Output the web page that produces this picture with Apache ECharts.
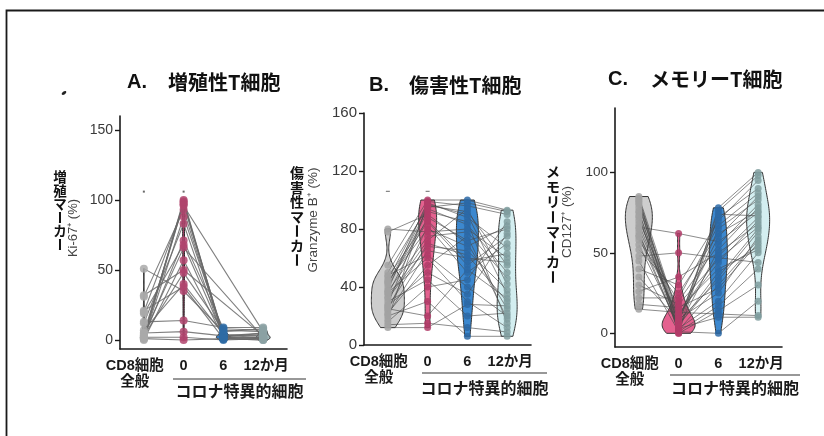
<!DOCTYPE html>
<html><head><meta charset="utf-8">
<script src="https://cdn.jsdelivr.net/npm/echarts@6/dist/echarts.min.js"></script>
<style>html,body{margin:0;padding:0;background:#fff}#c{width:824px;height:436px}</style>
</head><body><div id="c"></div><script>
// ---- data ----
const timeLabels = ['CD8細胞\n全般', '0', '6', '12か月'];
const panelTitles = ['増殖性T細胞', '傷害性T細胞', 'メモリーT細胞'];
const panelLetters = ['A.', 'B.', 'C.'];
const markerNames = ['増殖マーカー', '傷害性マーカー', 'メモリーマーカー'];
const unitNames = ['Ki-67⁺ (%)', 'Granzyme B⁺ (%)', 'CD127⁺ (%)'];
const groupName = 'コロナ特異的細胞';
const yTicksA = [0, 50, 100, 150];
const yTicksB = [0, 40, 80, 120, 160];
const yTicksC = [0, 50, 100];

// Panel A: Ki-67+ (%) per subject at CD8 bulk, 0, 6, 12 months
const kiCD8 = [2, 3, 1, 5, 20, 31, 1, 12, 2, 19, 51, 4, 0, 13, 5, 1, 32, 3, 7, 2, 21];
const ki0   = [100, 99, 98, 97, 96, 93, 88, 83, 71, 68, 35, 66, 57, 14, 6, 0, 50, 48, 40, 2, 38];
const ki6   = [2, 3, 1, 4, null, 2, 5, 1, 8, 3, 6, null, 2, 9, 3, 1, null, 7, 4, 0, 1];
const ki12  = [1, 2, 0, 3, 6, 5, null, 2, 7, 4, 8, 2, 1, 9, 5, 0, 3, 6, null, 1, 2];
// Panel B: Granzyme B+ (%)
const gzCD8 = [80, 78, 55, 50, 48, 45, 43, 40, 38, 36, 35, 33, 30, 28, 26, 24, 22, 20, 18, 16, 14, 12, 42, 47, 32, 27, 37, 44, 25, 21];
const gz0   = [78, 90, 100, 95, 62, 97, 85, 92, 99, 60, 88, 72, 45, 96, 70, 82, 55, 30, 98, 40, 15, 12, 94, 86, 68, 50, 75, 80, 20, 65];
const gz6   = [80, 70, 100, 98, 40, 90, 55, 85, 96, 30, 72, 94, 20, 92, 62, 50, 75, 6, 88, 45, 12, 28, 83, 58, 65, 35, 78, 68, 52, 60];
const gz12  = [60, 25, 93, 92, 20, 35, 75, 15, 90, 12, 80, 42, 22, 55, 30, 70, 18, 6, 67, 85, 9, 27, 50, 63, 38, 77, 46, 82, 32, 57];
// Panel C: CD127+ (%)
const cdCD8 = [66, 48, 85, 84, 83, 82, 80, 78, 76, 75, 73, 72, 70, 68, 65, 63, 61, 60, 58, 55, 52, 45, 40, 35, 30, 26, 22, 18, 15, 81];
const cd0   = [62, 50, 10, 5, 3, 8, 1, 12, 2, 6, 0, 4, 15, 7, 9, 2, 11, 3, 20, 5, 25, 1, 30, 8, 18, 35, 22, 16, 13, 0];
const cd6   = [57, 47, 60, 35, 20, 72, 0, 44, 30, 76, 14, 52, 40, 65, 25, 78, 48, 10, 55, 38, 62, 17, 70, 33, 46, 50, 67, 28, 12, 74];
const cd12  = [75, 44, 85, 65, 50, 90, 20, 70, 58, 98, 30, 78, 52, 83, 60, 100, 72, 10, 80, 54, 76, 40, 95, 63, 66, 68, 87, 56, 11, 73];
// significance marks above groups
const sigA = [[0, 106], [1, 106]];
const sigB = [[0, 106], [1, 106]];

// ---- styling / layout ----
const FONT = '"Liberation Sans","Noto Sans CJK JP",sans-serif';
const CJK = '"Noto Sans CJK JP","Liberation Sans",sans-serif';
const panels = [
  { data: [kiCD8, ki0, ki6, ki12], grid: { left: 120, top: 116, width: 167, height: 233 }, yMin: -6.4, yMax: 160, ticks: yTicksA, labelSize: 14,
    vWidths: [3, 2, 14, 14], ptSize: 8, pts: ['#a9a9a9', '#b0446d', '#2e6ba5', '#8ba1a3'], fills: ['#9a9a9a', '#b0446d', '#3a78b5', '#9fb5b7'], outline: '#222',
    line: { c: '#6a6a6a', w: 1.1, o: 0.85 }, sig: sigA, sigSize: [2, 2] },
  { data: [gzCD8, gz0, gz6, gz12], grid: { left: 364, top: 113, width: 167, height: 232 }, yMin: 0, yMax: 160, ticks: yTicksB, labelSize: 15,
    vWidths: [33, 18, 22, 20], ptSize: 7, pts: ['#a2a2a2', '#b23c69', '#2c68a6', '#809d9f'], fills: ['#cdcdcd', '#e4618f', '#3c88cf', '#d3eef0'], outline: '#333',
    line: { c: '#4a4a4a', w: 0.8, o: 0.8 }, sig: sigB, sigSize: [4, 1] },
  { data: [cdCD8, cd0, cd6, cd12], grid: { left: 615, top: 108, width: 167, height: 239 }, yMin: -8.5, yMax: 140, ticks: yTicksC, labelSize: 13.5,
    vWidths: [27, 33, 18, 23], ptSize: 7, pts: ['#a2a2a2', '#b23c69', '#2c68a6', '#809d9f'], fills: ['#cdcdcd', '#e4618f', '#3c88cf', '#d3eef0'], outline: '#333',
    line: { c: '#4a4a4a', w: 0.8, o: 0.8 }, sig: [], sigSize: [2, 2] }
];

function nrd0(v) {
  const n = v.length, m = v.reduce((a, b) => a + b, 0) / n;
  const sd = Math.sqrt(v.reduce((a, b) => a + (b - m) * (b - m), 0) / (n - 1));
  const s = v.slice().sort((a, b) => a - b);
  const q = p => { const h = (n - 1) * p, lo = Math.floor(h); return s[lo] + (h - lo) * ((s[lo + 1] ?? s[lo]) - s[lo]); };
  const iqr = q(0.75) - q(0.25);
  let lo = Math.min(sd, iqr / 1.34); if (!(lo > 0)) lo = sd || 1;
  return 0.9 * lo * Math.pow(n, -0.2);
}
function kde(v, h, y) { let s = 0; for (const x of v) s += Math.exp(-0.5 * ((y - x) / h) ** 2); return s; }

const lblStyle = { fontSize: 14.5, fontWeight: 'bold', fontFamily: FONT, color: '#1a1a1a', lineHeight: 16 };
const grid = [], xAxis = [], yAxis = [], series = [];
panels.forEach((p, pi) => {
  grid.push(Object.assign({ containLabel: false }, p.grid));
  // main x axis (time points)
  xAxis.push({
    type: 'value', gridIndex: pi, position: 'bottom', min: -0.6, max: 3.6,
    axisLine: { show: true, onZero: false, lineStyle: { color: '#1a1a1a', width: 1.6 } },
    axisTick: { show: false }, splitLine: { show: false },
    axisLabel: Object.assign({
      customValues: [1, 2, 3], margin: 9, hideOverlap: false,
      formatter: v => { const i = Math.round(v); return i === 3 ? '{r|' + timeLabels[3] + '}' : timeLabels[i]; },
      rich: { r: Object.assign({ padding: [0, 0, 0, 6] }, lblStyle) }
    }, lblStyle)
  });
  // secondary x axis only carrying the bulk CD8 label
  xAxis.push({
    type: 'value', gridIndex: pi, position: 'bottom', min: -0.6, max: 3.6,
    axisLine: { show: false }, axisTick: { show: false }, splitLine: { show: false },
    axisLabel: Object.assign({
      customValues: [0], margin: 9, hideOverlap: false,
      formatter: v => timeLabels[Math.round(v)].split('\n').map(s => '{l|' + s + '}').join('\n'),
      rich: { l: Object.assign({ padding: [0, 18, 0, 0] }, lblStyle) }
    }, lblStyle)
  });
  yAxis.push({
    type: 'value', gridIndex: pi, min: p.yMin, max: p.yMax,
    axisLine: { show: true, onZero: false, lineStyle: { color: '#1a1a1a', width: 1.6 } },
    axisTick: { show: true, length: 5, customValues: p.ticks, lineStyle: { color: '#1a1a1a', width: 1.4 } },
    splitLine: { show: false },
    axisLabel: { customValues: p.ticks, color: '#3a3a3a', fontSize: p.labelSize, fontFamily: FONT, margin: 7 }
  });
  const xi = pi * 2;
  // violins
  const dens = p.data.map(vals => {
    const v = vals.filter(x => x != null);
    const h = nrd0(v);
    const lo = Math.min(...v), hi = Math.max(...v);
    const ys = [], ds = [];
    for (let k = 0; k <= 80; k++) { const y = lo + (hi - lo) * k / 80; ys.push(y); ds.push(kde(v, h, y)); }
    const m = Math.max(...ds);
    return { ys, ds: ds.map(d => d / m) };
  });
  series.push({
    type: 'custom', xAxisIndex: xi, yAxisIndex: pi, z: 1, silent: true, data: [[0, 0], [1, 0], [2, 0], [3, 0]],
    renderItem(params, api) {
      const g = params.dataIndex, d = dens[g], hw = p.vWidths[g] / 2;
      const L = [], R = [];
      d.ys.forEach((y, k) => { const c = api.coord([g, y]); L.push([c[0] - d.ds[k] * hw, c[1]]); R.push([c[0] + d.ds[k] * hw, c[1]]); });
      return { type: 'polygon', shape: { points: L.concat(R.reverse()) }, style: { fill: p.fills[g], stroke: p.outline, lineWidth: 1 } };
    }
  });
  // paired lines
  const nSub = p.data[0].length;
  series.push({
    type: 'custom', xAxisIndex: xi, yAxisIndex: pi, z: 2, silent: true,
    data: Array.from({ length: nSub }, (_, i) => [0, 0]),
    renderItem(params, api) {
      const i = params.dataIndex, pts = [];
      p.data.forEach((arr, g) => { if (arr[i] != null) pts.push(api.coord([g, arr[i]])); });
      return { type: 'polyline', shape: { points: pts }, style: { stroke: p.line.c, lineWidth: p.line.w, opacity: p.line.o, fill: null } };
    }
  });
  // points
  p.data.forEach((arr, g) => {
    series.push({
      type: 'scatter', xAxisIndex: xi, yAxisIndex: pi, z: 3, silent: true, symbolSize: p.ptSize,
      itemStyle: { color: p.pts[g], opacity: 0.85 },
      data: arr.filter(v => v != null).map(v => [g, v])
    });
  });
  if (p.sig.length) series.push({ type: 'scatter', xAxisIndex: xi, yAxisIndex: pi, z: 3, silent: true, symbol: 'rect', symbolSize: p.sigSize, itemStyle: { color: '#444' }, data: p.sig });
});

// text decorations
const graphic = [];
graphic.push({ type: 'rect', shape: { x: 6.5, y: 10.5, width: 900, height: 500 }, style: { fill: null, stroke: '#1a1a1a', lineWidth: 1.8 }, silent: true });
graphic.push({ type: 'ellipse', shape: { cx: 64, cy: 93, rx: 2.6, ry: 1.5 }, rotation: 0.6, originX: 64, originY: 93, style: { fill: '#222' } });
const titlePos = [[127, 168, 82], [369, 409, 85], [608, 650, 79]];
titlePos.forEach((t, i) => {
  graphic.push({ type: 'text', x: t[0], y: t[2], style: { text: panelLetters[i], font: 'bold 20px ' + FONT, fill: '#111', verticalAlign: 'middle' } });
  graphic.push({ type: 'text', x: t[1], y: t[2], style: { text: panelTitles[i], font: 'bold 20px ' + CJK, fill: '#111', verticalAlign: 'middle' } });
});
const stackPos = [[60, 177, 13.5, 13.5], [297, 173, 14.5, 14], [553, 172, 15, 14]];
stackPos.forEach((s, i) => {
  Array.from(markerNames[i]).forEach((ch, k) => {
    graphic.push({ type: 'text', x: s[0], y: s[1] + k * s[2], rotation: ch === 'ー' ? Math.PI / 2 : 0,
      style: { text: ch, font: 'bold ' + s[3] + 'px ' + CJK, fill: '#111', align: 'center', verticalAlign: 'middle' } });
  });
});
const unitPos = [[73, 228, 13], [313, 220, 13.5], [567, 222, 13.5]];
unitPos.forEach((u, i) => {
  graphic.push({ type: 'text', x: u[0], y: u[1], rotation: Math.PI / 2, style: { text: unitNames[i], font: u[2] + 'px ' + FONT, fill: '#444', align: 'center', verticalAlign: 'middle' } });
});
const groupPos = [[173, 306, 379, 391], [422, 547, 373, 388], [670, 800, 375, 388]];
groupPos.forEach(g => {
  graphic.push({ type: 'line', shape: { x1: g[0], y1: g[2], x2: g[1], y2: g[2] }, style: { stroke: '#333', lineWidth: 1.2 } });
  graphic.push({ type: 'text', x: (g[0] + g[1]) / 2, y: g[3], style: { text: groupName, font: 'bold 16px ' + CJK, fill: '#1a1a1a', align: 'center', verticalAlign: 'middle' } });
});

const chart = echarts.init(document.getElementById('c'), null, { renderer: 'canvas' });
chart.setOption({ backgroundColor: '#fff', animation: false, grid, xAxis, yAxis, series, graphic });
</script></body></html>
